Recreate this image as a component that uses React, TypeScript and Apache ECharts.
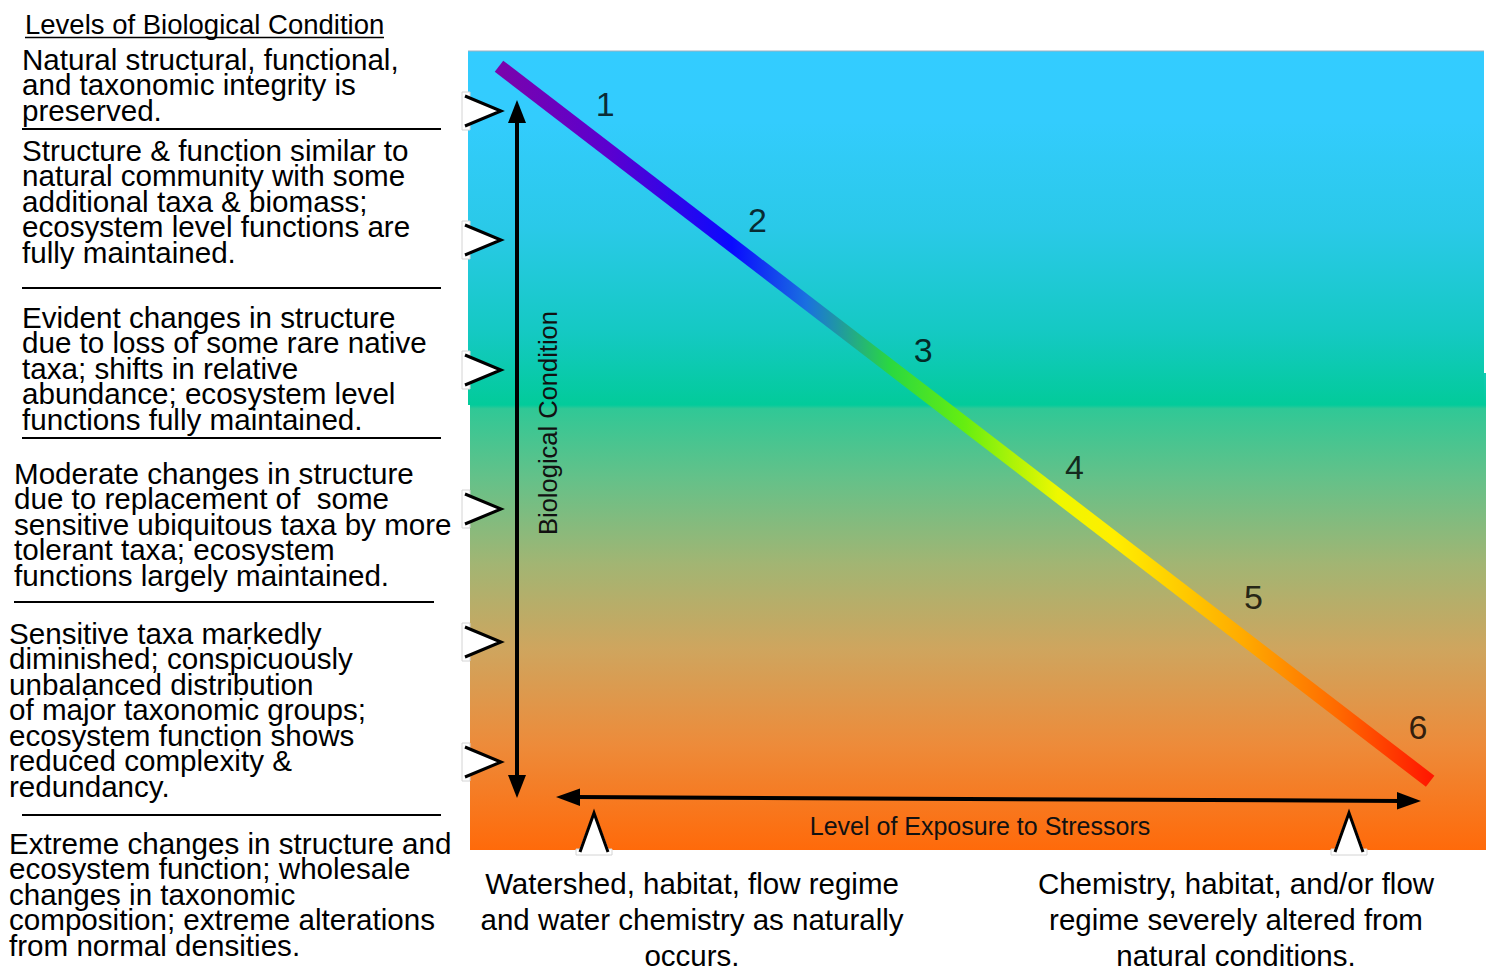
import React, { useEffect, useRef } from "react";
import * as echarts from "echarts";

const FONT = '"Liberation Sans", Arial, sans-serif';

const levelNumbers = ["1", "2", "3", "4", "5", "6"];
// exposure (0-100) and biological condition (0-100) positions of the level labels
const labelExposure = [13.5, 28.5, 44.8, 59.7, 77.3, 93.5];
const labelCondition = [93.4, 78.8, 62.6, 47.9, 31.7, 15.4];

// diagonal condition gradient line, from natural to severely altered
const diagonalExposure = [3.05, 94.7];
const diagonalCondition = [98.1, 8.6];

const titleText = "Levels of Biological Condition";
const levelTexts = [
  "Natural structural, functional,\nand taxonomic integrity is\npreserved.",
  "Structure & function similar to\nnatural community with some\nadditional taxa & biomass;\necosystem level functions are\nfully maintained.",
  "Evident changes in structure\ndue to loss of some rare native\ntaxa; shifts in relative\nabundance; ecosystem level\nfunctions fully maintained.",
  "Moderate changes in structure\ndue to replacement of  some\nsensitive ubiquitous taxa by more\ntolerant taxa; ecosystem\nfunctions largely maintained.",
  "Sensitive taxa markedly\ndiminished; conspicuously\nunbalanced distribution\nof major taxonomic groups;\necosystem function shows\nreduced complexity &\nredundancy.",
  "Extreme changes in structure and\necosystem function; wholesale\nchanges in taxonomic\ncomposition; extreme alterations\nfrom normal densities.",
];
const yAxisTitle = "Biological Condition";
const xAxisTitle = "Level of Exposure to Stressors";
const lowExposureText = "Watershed, habitat, flow regime\nand water chemistry as naturally\noccurs.";
const highExposureText = "Chemistry, habitat, and/or flow\nregime severely altered from\nnatural conditions.";

// layout (pixels)
const blockX = [22, 22, 22, 14, 9, 9];
const blockFirstLineY = [59, 150, 317, 473, 633, 843];
const separators = [
  [22, 441, 129],
  [22, 441, 288],
  [22, 441, 438],
  [14, 434, 602],
  [22, 441, 815],
];
const chevronY = [111, 240, 370, 509, 642, 762];
const caretX = [594, 1349];

export default function App() {
  const ref = useRef<HTMLDivElement>(null);

  useEffect(() => {
    if (!ref.current) return;
    const chart = echarts.init(ref.current, null, { renderer: "svg" });
    const LH = 25.5;

    const elements: any[] = [];

    // background rectangles
    elements.push({
      type: "rect",
      z: 0,
      shape: { x: 470, y: 373, width: 1016, height: 477 },
      style: {
        fill: new echarts.graphic.LinearGradient(0, 0, 0, 1, [
          { offset: 0, color: "#12ccb6" },
          { offset: 0.067, color: "#02cb9c" },
          { offset: 0.075, color: "#30c896" },
          { offset: 0.22, color: "#64c189" },
          { offset: 0.4, color: "#a2b573" },
          { offset: 0.58, color: "#cfa55e" },
          { offset: 0.78, color: "#ed8b3a" },
          { offset: 1, color: "#ff6a0a" },
        ]),
      },
      silent: true,
    });
    elements.push({
      type: "rect",
      z: 1,
      shape: { x: 468, y: 51, width: 1016, height: 354 },
      style: {
        fill: new echarts.graphic.LinearGradient(0, 0, 0, 1, [
          { offset: 0, color: "#33ccff" },
          { offset: 0.2, color: "#33ccfd" },
          { offset: 0.5, color: "#2ac9e8" },
          { offset: 0.8, color: "#14c9c2" },
          { offset: 1, color: "#02cb9a" },
        ]),
      },
      silent: true,
    });
    elements.push({
      type: "line",
      z: 1,
      shape: { x1: 468, y1: 51, x2: 1484, y2: 51 },
      style: { stroke: "#9fb0c0", lineWidth: 1 },
    });

    // title
    elements.push({
      type: "text",
      x: 25,
      y: 24,
      style: { text: titleText, font: `27.5px ${FONT}`, fill: "#000", verticalAlign: "middle", align: "left" },
    });
    elements.push({
      type: "line",
      shape: { x1: 25, y1: 37.5, x2: 384, y2: 37.5 },
      style: { stroke: "#000", lineWidth: 1.5 },
    });

    // level descriptions
    levelTexts.forEach((t, i) => {
      elements.push({
        type: "text",
        x: blockX[i],
        y: blockFirstLineY[i] - LH / 2,
        style: { text: t, font: `29.6px ${FONT}`, lineHeight: LH, fill: "#000", verticalAlign: "top", align: "left" },
      });
    });
    separators.forEach(([x1, x2, y]) => {
      elements.push({
        type: "line",
        shape: { x1, y1: y, x2, y2: y },
        style: { stroke: "#000", lineWidth: 2 },
      });
    });

    // chevrons on the left edge
    chevronY.forEach((c) => {
      elements.push({
        type: "rect",
        z: 20,
        shape: { x: 462, y: c - 19, width: 8, height: 38 },
        style: { fill: "#fff", stroke: "#d4d4d4", lineWidth: 1 },
      });
      elements.push({
        type: "polygon",
        z: 21,
        shape: { points: [[463, c - 16], [502, c], [463, c + 16]] },
        style: { fill: "#fff" },
      });
      elements.push({
        type: "polyline",
        z: 22,
        shape: { points: [[465, c - 15], [501, c], [465, c + 15]] },
        style: { stroke: "#000", lineWidth: 3, fill: null },
      });
    });

    // carets on the bottom edge
    caretX.forEach((cx) => {
      elements.push({
        type: "rect",
        z: 20,
        shape: { x: cx - 18, y: 849, width: 36, height: 6 },
        style: { fill: "#fff", stroke: "#d4d4d4", lineWidth: 1 },
      });
      elements.push({
        type: "polygon",
        z: 21,
        shape: { points: [[cx - 16, 853], [cx, 811], [cx + 16, 853]] },
        style: { fill: "#fff" },
      });
      elements.push({
        type: "polyline",
        z: 22,
        shape: { points: [[cx - 14, 852], [cx, 813], [cx + 14, 852]] },
        style: { stroke: "#000", lineWidth: 3, fill: null },
      });
    });

    // vertical double arrow
    elements.push({
      type: "line",
      z: 30,
      shape: { x1: 517, y1: 118, x2: 517, y2: 780 },
      style: { stroke: "#000", lineWidth: 4 },
    });
    elements.push({
      type: "polygon",
      z: 30,
      shape: { points: [[517, 100], [508, 123], [526, 123]] },
      style: { fill: "#000" },
    });
    elements.push({
      type: "polygon",
      z: 30,
      shape: { points: [[517, 798], [508, 775], [526, 775]] },
      style: { fill: "#000" },
    });

    // horizontal double arrow
    elements.push({
      type: "line",
      z: 30,
      shape: { x1: 575, y1: 797, x2: 1402, y2: 801 },
      style: { stroke: "#000", lineWidth: 4 },
    });
    elements.push({
      type: "polygon",
      z: 30,
      shape: { points: [[556, 797], [580, 788.5], [580, 806]] },
      style: { fill: "#000" },
    });
    elements.push({
      type: "polygon",
      z: 30,
      shape: { points: [[1421, 801], [1397, 792], [1397, 809.5]] },
      style: { fill: "#000" },
    });

    // axis titles
    elements.push({
      type: "text",
      z: 30,
      x: 548,
      y: 423,
      rotation: Math.PI / 2,
      style: { text: yAxisTitle, font: `25.5px ${FONT}`, fill: "#111", align: "center", verticalAlign: "middle" },
    });
    elements.push({
      type: "text",
      z: 30,
      x: 980,
      y: 826,
      style: { text: xAxisTitle, font: `25px ${FONT}`, fill: "#111", align: "center", verticalAlign: "middle" },
    });

    // bottom descriptions
    [
      [692, lowExposureText],
      [1236, highExposureText],
    ].forEach(([x, t]) => {
      elements.push({
        type: "text",
        x: x as number,
        y: 884 - 18.5,
        style: { text: t as string, font: `29.5px ${FONT}`, lineHeight: 36, fill: "#000", align: "center", verticalAlign: "top" },
      });
    });

    const option: any = {
      animation: false,
      grid: { left: 468, top: 51, width: 1016, height: 799, containLabel: false },
      xAxis: { type: "value", min: 0, max: 100, show: false },
      yAxis: { type: "value", min: 0, max: 100, show: false },
      graphic: { elements },
      series: [
        {
          type: "line",
          z: 5,
          data: diagonalExposure.map((x, i) => [x, diagonalCondition[i]]),
          symbol: "none",
          lineStyle: {
            width: 14,
            cap: "butt",
            color: new echarts.graphic.LinearGradient(0, 0, 1, 0, [
              { offset: 0, color: "#7a04ac" },
              { offset: 0.12, color: "#5a00d0" },
              { offset: 0.25, color: "#0a0aff" },
              { offset: 0.33, color: "#1a70e0" },
              { offset: 0.42, color: "#2ad840" },
              { offset: 0.5, color: "#66ee10" },
              { offset: 0.6, color: "#eef800" },
              { offset: 0.66, color: "#ffee00" },
              { offset: 0.8, color: "#ffaa00" },
              { offset: 0.9, color: "#ff6a00" },
              { offset: 1, color: "#ff1800" },
            ]),
          },
        },
        {
          type: "scatter",
          z: 6,
          symbolSize: 1,
          itemStyle: { color: "rgba(0,0,0,0)" },
          data: levelNumbers.map((n, i) => ({ value: [labelExposure[i], labelCondition[i]], name: n })),
          label: {
            show: true,
            position: "inside",
            formatter: (p: any) => p.name,
            fontFamily: FONT,
            fontSize: 34,
            color: "#000",
          },
        },
      ],
    };

    chart.setOption(option);
    return () => chart.dispose();
  }, []);

  return (
    <div
      ref={ref}
      style={{ position: "fixed", left: 0, top: 0, width: 1490, height: 969, background: "#fff" }}
    />
  );
}
